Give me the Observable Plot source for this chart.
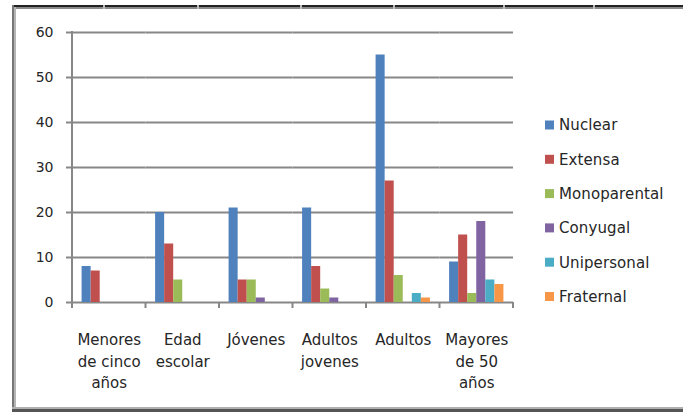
<!DOCTYPE html>
<html>
<head>
<meta charset="utf-8">
<script src="https://cdn.jsdelivr.net/npm/d3@7"></script>
<script src="https://cdn.jsdelivr.net/npm/@observablehq/plot@0.6"></script>
<style>
  html, body { margin: 0; padding: 0; background: #fff; }
  #chart svg { display: block; }
</style>
</head>
<body>
<div id="chart"></div>
<script>
const categories = ["Menores de cinco años", "Edad escolar", "Jóvenes", "Adultos jovenes", "Adultos", "Mayores de 50 años"];
const categoryLabels = ["Menores\nde cinco\naños", "Edad\nescolar", "Jóvenes", "Adultos\njovenes", "Adultos", "Mayores\nde 50\naños"];
const series = ["Nuclear", "Extensa", "Monoparental", "Conyugal", "Unipersonal", "Fraternal"];
const nuclear      = [8, 20, 21, 21, 55, 9];
const extensa      = [7, 13, 5, 8, 27, 15];
const monoparental = [0, 5, 5, 3, 6, 2];
const conyugal     = [0, 0, 1, 1, 0, 18];
const unipersonal  = [0, 0, 0, 0, 2, 5];
const fraternal    = [0, 0, 0, 0, 1, 4];
const colors = ["#4F81BD", "#C0504D", "#9BBB59", "#8064A2", "#4BACC6", "#F79646"];
const yTicks = [0, 10, 20, 30, 40, 50, 60];

const seriesValues = [nuclear, extensa, monoparental, conyugal, unipersonal, fraternal];
const data = [];
categories.forEach((c, ci) => {
  series.forEach((s, si) => {
    data.push({category: c, series: s, value: seriesValues[si][ci]});
  });
});
const labelOf = new Map(categories.map((c, i) => [c, categoryLabels[i]]));

const gridColor = "#878787";
const textColor = "#262626";

const plot = Plot.plot({
  width: 683,
  height: 412,
  marginLeft: 72,
  marginRight: 170,
  marginTop: 32,
  marginBottom: 110,
  style: {fontFamily: "DejaVu Sans", fontSize: "14px", color: textColor, background: "white"},
  fx: {domain: categories, paddingInner: 0, paddingOuter: 0, round: false, axis: null, label: null},
  x: {domain: series, paddingInner: 0, paddingOuter: 1.06, round: false, axis: null},
  y: {domain: [0, 60], axis: null},
  color: {domain: series, range: colors},
  marks: [
    Plot.ruleY(yTicks, {stroke: gridColor, strokeWidth: 2}),
    Plot.axisY(yTicks, {tickSize: 6, tickPadding: 13, stroke: gridColor, strokeWidth: 2, fill: textColor, label: null, fontSize: 14}),
    Plot.barY(data, {fx: "category", x: "series", y: "value", fill: "series"}),
    Plot.axisFx({anchor: "bottom", tickSize: 0, tickPadding: 27, lineHeight: 1.45, tickFormat: d => labelOf.get(d), label: null, fontSize: 15, fill: textColor, style: {letterSpacing: "0.4px"}})
  ]
});

document.getElementById("chart").appendChild(plot);

const svg = d3.select(plot);
const fx = plot.scale("fx");
const y = plot.scale("y");
const y0 = y.apply(0), yTop = y.apply(60);
const xLeft = fx.apply(categories[0]);
const step = fx.step || fx.bandwidth;

// y axis line
svg.append("line")
  .attr("x1", xLeft).attr("x2", xLeft)
  .attr("y1", yTop - 1).attr("y2", y0 + 1)
  .attr("stroke", gridColor).attr("stroke-width", 2);

// category boundary ticks
for (let i = 0; i <= categories.length; i++) {
  const xb = xLeft + i * step;
  svg.append("line")
    .attr("x1", xb).attr("x2", xb)
    .attr("y1", y0).attr("y2", y0 + 6)
    .attr("stroke", gridColor).attr("stroke-width", 2);
}

// legend
const legend = svg.append("g")
  .attr("font-family", "DejaVu Sans").attr("font-size", 15)
  .attr("fill", textColor).attr("text-anchor", "start");
series.forEach((s, i) => {
  const ly = 125 + i * 34.3;
  legend.append("rect")
    .attr("x", 545).attr("y", ly - 4.5).attr("width", 9).attr("height", 9)
    .attr("fill", colors[i]);
  legend.append("text")
    .attr("x", 559).attr("y", ly)
    .attr("dy", "0.36em")
    .attr("text-anchor", "start")
    .style("letter-spacing", "0.1px")
    .text(s);
});

// outer frame (top, left, bottom edges)
const frame = svg.append("g");
frame.append("rect").attr("x", 12).attr("y", 5).attr("width", 671).attr("height", 2).attr("fill", "#222");
frame.append("rect").attr("x", 12).attr("y", 7).attr("width", 671).attr("height", 2).attr("fill", "#8a8a8a");
frame.append("rect").attr("x", 12).attr("y", 5).attr("width", 2).attr("height", 404).attr("fill", "#777");
frame.append("rect").attr("x", 14).attr("y", 7).attr("width", 2).attr("height", 400).attr("fill", "#b5b5b5");
frame.append("rect").attr("x", 12).attr("y", 407).attr("width", 671).attr("height", 2).attr("fill", "#b0b0b0");
frame.append("rect").attr("x", 12).attr("y", 409).attr("width", 671).attr("height", 3).attr("fill", "#555");
[103, 197, 300, 393, 503, 593].forEach(xm => {
  frame.append("rect").attr("x", xm).attr("y", 5).attr("width", 2).attr("height", 4).attr("fill", "#bbb");
});
</script>
</body>
</html>
